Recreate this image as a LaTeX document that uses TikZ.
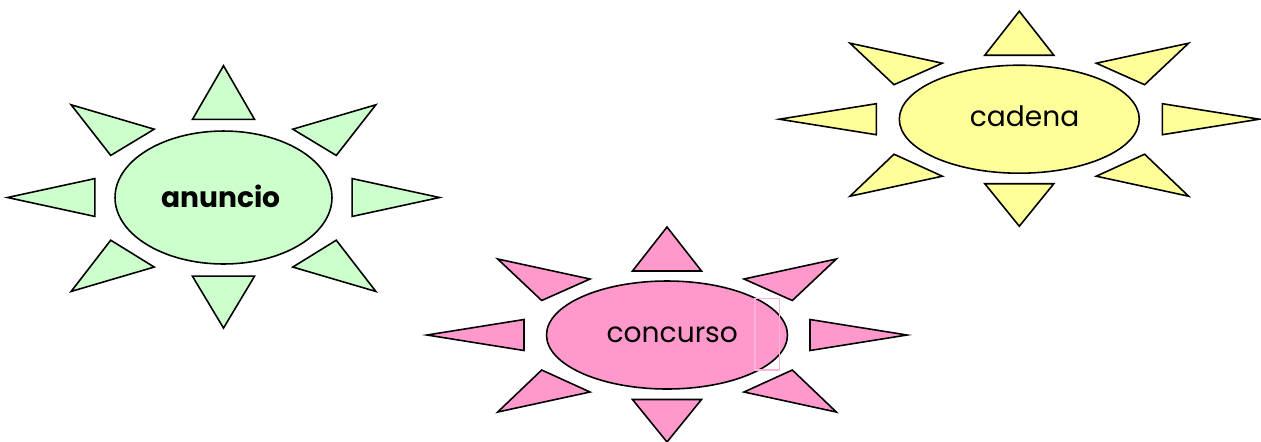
\documentclass[tikz,border=0pt]{standalone}
\usepackage{fontspec}
\setmainfont{Poppins}
\usetikzlibrary{shapes.geometric}
\definecolor{rayGreen}{HTML}{CCFFCC}
\definecolor{rayYellow}{HTML}{FFFF99}
\definecolor{rayPink}{HTML}{FF99CC}
\definecolor{markPink}{HTML}{FFB3D6}
\tikzset{
  ray/.style={draw=black, line width=0.9pt, line join=miter},
  sunCore/.style={ellipse, draw=black, line width=0.9pt, inner sep=0pt,
    font=\fontsize{16}{19}\selectfont},
}
% eight rays round one sun: #1 centre, #2 xscale, #3 yscale, #4 fill
\newcommand{\sunRays}[4]{%
  \begin{scope}[shift={#1}, xscale=#2, yscale=#3]
    \foreach \s in {1,-1} {
      \begin{scope}[xscale=\s]
        \draw[ray, fill=#4] (-77,-56) -- (-169.3,-76) -- (-125.3,-34.5) -- cycle;
        \draw[ray, fill=#4] (-77,57) -- (-125.3,35) -- (-169.3,77) -- cycle;
        \draw[ray, fill=#4] (-143,-15.5) -- (-240,0) -- (-143,15.5) -- cycle;
      \end{scope}
    }
    \draw[ray, fill=#4] (-34.5,-64) -- (0,-108) -- (34.5,-64) -- cycle;
    \draw[ray, fill=#4] (-34.5,64.5) -- (0,107) -- (34.5,64.5) -- cycle;
  \end{scope}
}

\begin{document}
\begin{tikzpicture}[x=0.02cm, y=-0.02cm]
    \useasboundingbox (0,0) rectangle (1261,441);

    % --- anuncio ---
    \sunRays{(223.5,197.5)}{0.9}{1.22}{rayGreen}
    \node[sunCore, fill=rayGreen, minimum width=4.34cm, minimum height=2.66cm,
      font=\fontsize{16}{19}\selectfont\bfseries] (anuncio) at (223.5,197.5)
      {\raisebox{2pt}{anuncio}\hspace*{3pt}};

    % --- cadena ---
    \sunRays{(1019.3,119.2)}{1}{1}{rayYellow}
    \node[sunCore, fill=rayYellow, minimum width=4.8cm, minimum height=2.16cm]
      (cadena) at (1019.3,119.2) {\hspace*{6pt}\raisebox{3pt}{cadena}};

    % --- concurso ---
    \sunRays{(667,335)}{1}{1}{rayPink}
    \node[sunCore, fill=rayPink, minimum width=4.82cm, minimum height=2.16cm]
      (concurso) at (667,335) {\hspace*{6pt}\raisebox{-1pt}{concurso}};
    \draw[markPink, line width=0.8pt] (755,298.3) rectangle (779.3,370);

\end{tikzpicture}
\end{document}
